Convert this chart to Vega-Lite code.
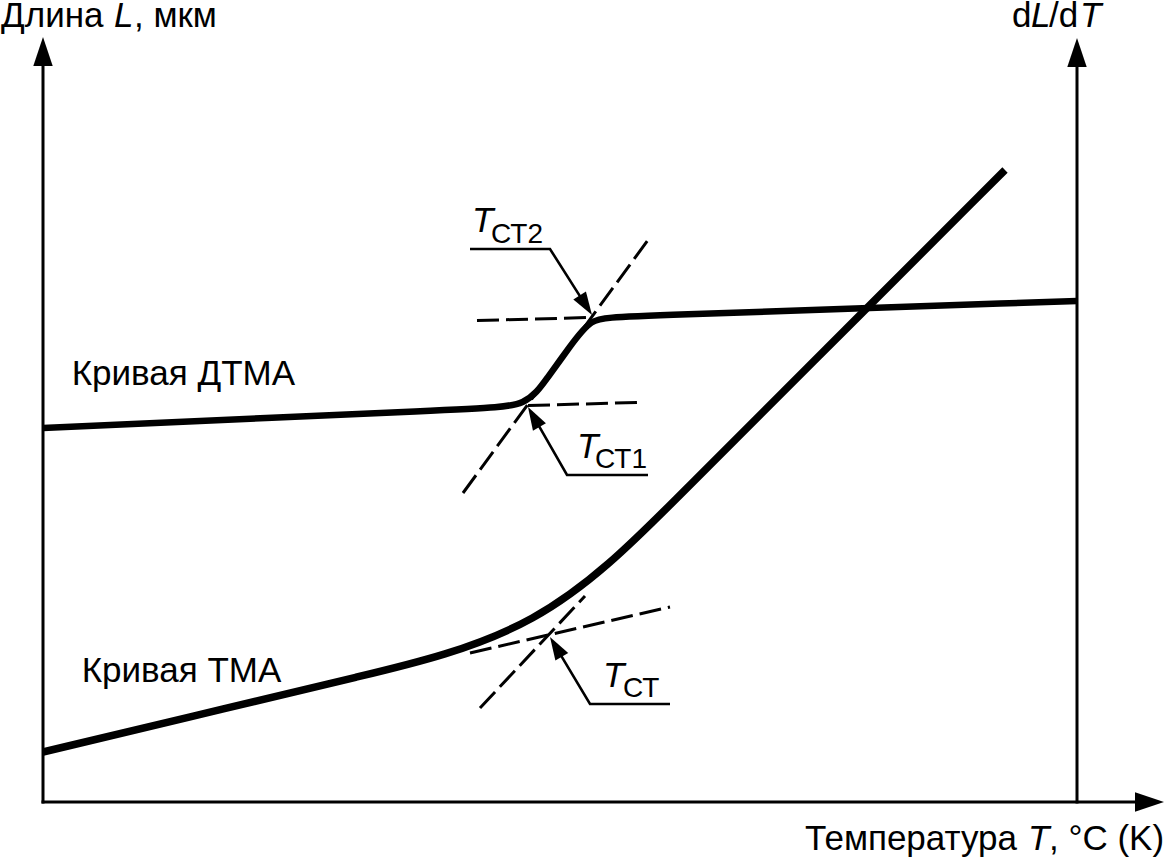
{
  "$schema": "https://vega.github.io/schema/vega-lite/v6.json",
  "width": 1168,
  "height": 858,
  "autosize": {"type": "none"},
  "padding": 0,
  "background": "white",
  "config": {"view": {"stroke": null}},
  "datasets": {
    "frame": [
      {"id": "left", "i": 0, "T": 0, "L": 0},
      {"id": "left", "i": 1, "T": 0, "L": 745},
      {"id": "right", "i": 0, "T": 1034, "L": 0},
      {"id": "right", "i": 1, "T": 1034, "L": 745},
      {"id": "bottom", "i": 0, "T": 0, "L": 0},
      {"id": "bottom", "i": 1, "T": 1100, "L": 0}
    ],
    "curves": [
      {"id": "DTMA", "i": 0, "T": 0, "L": 374},
      {"id": "DTMA", "i": 1, "T": 437, "L": 393.5},
      {"id": "DTMA", "i": 2, "T": 484, "L": 395.6},
      {"id": "DTMA", "i": 3, "T": 504.5, "L": 424.5},
      {"id": "DTMA", "i": 4, "T": 526.5, "L": 454.7},
      {"id": "DTMA", "i": 5, "T": 548, "L": 484},
      {"id": "DTMA", "i": 6, "T": 572, "L": 485.3},
      {"id": "DTMA", "i": 7, "T": 1034, "L": 501},
      {"id": "TMA", "i": 0, "T": 0, "L": 50},
      {"id": "TMA", "i": 1, "T": 157, "L": 87.5},
      {"id": "TMA", "i": 2, "T": 305, "L": 122.9},
      {"id": "TMA", "i": 3, "T": 499, "L": 169},
      {"id": "TMA", "i": 4, "T": 635, "L": 305},
      {"id": "TMA", "i": 5, "T": 757, "L": 427},
      {"id": "TMA", "i": 6, "T": 962, "L": 632}
    ],
    "tangents": [
      {"id": "d1", "i": 0, "T": 485, "L": 396.5},
      {"id": "d1", "i": 1, "T": 594, "L": 399.5},
      {"id": "d2", "i": 0, "T": 434, "L": 481.5},
      {"id": "d2", "i": 1, "T": 547, "L": 484.5},
      {"id": "d3", "i": 0, "T": 420, "L": 309},
      {"id": "d3", "i": 1, "T": 605, "L": 562},
      {"id": "t1", "i": 0, "T": 427, "L": 149},
      {"id": "t1", "i": 1, "T": 627, "L": 195},
      {"id": "t2", "i": 0, "T": 437, "L": 94},
      {"id": "t2", "i": 1, "T": 542, "L": 206}
    ],
    "leaders": [
      {"id": "CT2", "i": 0, "T": 427, "L": 553},
      {"id": "CT2", "i": 1, "T": 507, "L": 553},
      {"id": "CT2", "i": 2, "T": 543.6, "L": 495.4},
      {"id": "CT1", "i": 0, "T": 605, "L": 327},
      {"id": "CT1", "i": 1, "T": 524, "L": 327},
      {"id": "CT1", "i": 2, "T": 490, "L": 386.3},
      {"id": "CT", "i": 0, "T": 627, "L": 98},
      {"id": "CT", "i": 1, "T": 547, "L": 98},
      {"id": "CT", "i": 2, "T": 512.1, "L": 156.4}
    ],
    "arrows": [
      {"kind": "axis", "T": 0, "L": 765, "heading": 0},
      {"kind": "axis", "T": 1034, "L": 764, "heading": 0},
      {"kind": "axis", "T": 1121, "L": 0, "heading": 90},
      {"kind": "leader", "T": 549, "L": 487, "heading": 147.5},
      {"kind": "leader", "T": 485, "L": 395, "heading": -29.8},
      {"kind": "leader", "T": 507, "L": 165, "heading": -30.9}
    ],
    "texts": [
      {"role": "label", "text": "Длина", "T": -42, "L": 775},
      {"role": "symbol", "text": "L", "T": 71, "L": 775},
      {"role": "label", "text": ", мкм", "T": 91, "L": 775},
      {"role": "label", "text": "d", "T": 969, "L": 775},
      {"role": "symbol", "text": "L", "T": 988, "L": 775},
      {"role": "label", "text": "/d", "T": 1006, "L": 775},
      {"role": "symbol", "text": "T", "T": 1037, "L": 775},
      {"role": "label", "text": "Кривая ДТМА", "T": 28.7, "L": 417},
      {"role": "label", "text": "Кривая ТМА", "T": 38.7, "L": 120.3},
      {"role": "label", "text": "Температура", "T": 762, "L": -48},
      {"role": "symbol", "text": "T", "T": 985, "L": -48},
      {"role": "label", "text": ", °C (K)", "T": 1006, "L": -48},
      {"role": "symbol", "text": "T", "T": 429, "L": 570},
      {"role": "subscript", "text": "СТ2", "T": 448, "L": 559},
      {"role": "symbol", "text": "T", "T": 534, "L": 344},
      {"role": "subscript", "text": "СТ1", "T": 552, "L": 334},
      {"role": "symbol", "text": "T", "T": 560, "L": 115},
      {"role": "subscript", "text": "СТ", "T": 580, "L": 105}
    ]
  },
  "encoding": {
    "x": {"field": "T", "type": "quantitative", "scale": {"domain": [-43, 1125], "nice": false, "zero": false}, "axis": null},
    "y": {"field": "L", "type": "quantitative", "scale": {"domain": [-56, 802], "nice": false, "zero": false}, "axis": null}
  },
  "layer": [
    {
      "data": {"name": "tangents"},
      "mark": {"type": "line", "color": "black", "strokeWidth": 3, "strokeDash": [22, 7], "strokeCap": "butt"},
      "encoding": {"detail": {"field": "id"}, "order": {"field": "i", "type": "quantitative"}}
    },
    {
      "data": {"name": "curves"},
      "transform": [{"filter": "datum.id === 'DTMA'"}],
      "mark": {"type": "line", "color": "black", "strokeWidth": 6.5, "interpolate": "basis", "strokeCap": "butt"},
      "encoding": {"order": {"field": "i", "type": "quantitative"}}
    },
    {
      "data": {"name": "curves"},
      "transform": [{"filter": "datum.id === 'TMA'"}],
      "mark": {"type": "line", "color": "black", "strokeWidth": 7.5, "interpolate": "basis", "strokeCap": "butt"},
      "encoding": {"order": {"field": "i", "type": "quantitative"}}
    },
    {
      "data": {"name": "frame"},
      "mark": {"type": "line", "color": "black", "strokeWidth": 3, "strokeCap": "square"},
      "encoding": {"detail": {"field": "id"}, "order": {"field": "i", "type": "quantitative"}}
    },
    {
      "data": {"name": "leaders"},
      "mark": {"type": "line", "color": "black", "strokeWidth": 2.6, "strokeJoin": "miter", "strokeCap": "butt"},
      "encoding": {"detail": {"field": "id"}, "order": {"field": "i", "type": "quantitative"}}
    },
    {
      "data": {"name": "arrows"},
      "transform": [{"filter": "datum.kind === 'axis'"}],
      "mark": {"type": "point", "shape": "M0,0L0.67,2L-0.67,2Z", "size": 841, "filled": true, "color": "black", "opacity": 1, "strokeWidth": 0},
      "encoding": {"angle": {"field": "heading", "type": "quantitative", "scale": null}}
    },
    {
      "data": {"name": "arrows"},
      "transform": [{"filter": "datum.kind === 'leader'"}],
      "mark": {"type": "point", "shape": "M0,0L0.65,2L-0.65,2Z", "size": 529, "filled": true, "color": "black", "opacity": 1, "strokeWidth": 0},
      "encoding": {"angle": {"field": "heading", "type": "quantitative", "scale": null}}
    },
    {
      "data": {"name": "texts"},
      "transform": [{"filter": "datum.role === 'label'"}],
      "mark": {"type": "text", "align": "left", "baseline": "alphabetic", "font": "Liberation Sans", "fontSize": 35, "color": "black"},
      "encoding": {"text": {"field": "text"}}
    },
    {
      "data": {"name": "texts"},
      "transform": [{"filter": "datum.role === 'symbol'"}],
      "mark": {"type": "text", "align": "left", "baseline": "alphabetic", "font": "Liberation Sans", "fontSize": 35, "fontStyle": "italic", "color": "black"},
      "encoding": {"text": {"field": "text"}}
    },
    {
      "data": {"name": "texts"},
      "transform": [{"filter": "datum.role === 'subscript'"}],
      "mark": {"type": "text", "align": "left", "baseline": "alphabetic", "font": "Liberation Sans", "fontSize": 28, "color": "black"},
      "encoding": {"text": {"field": "text"}}
    }
  ]
}
